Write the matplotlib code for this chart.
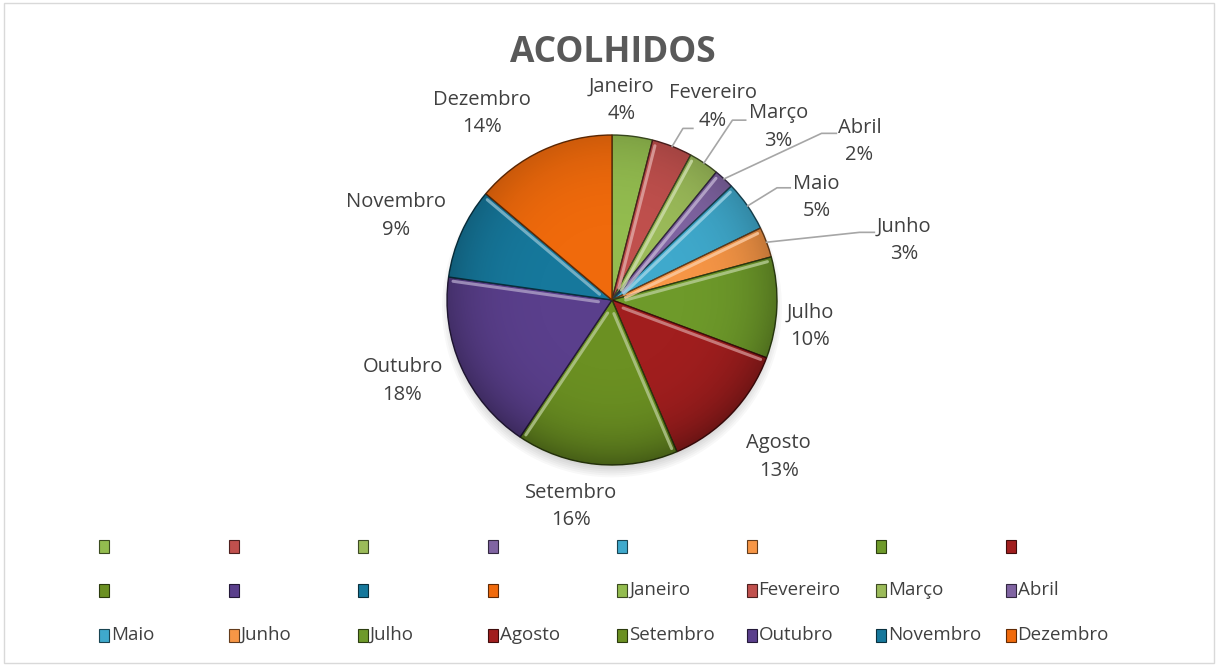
import numpy as np
import matplotlib.pyplot as plt
from matplotlib.patches import Rectangle, Circle
from matplotlib.colors import to_rgb

plt.rcParams['font.family'] = ['Open Sans', 'DejaVu Sans']

meses = ['Janeiro', 'Fevereiro', 'Março', 'Abril', 'Maio', 'Junho',
         'Julho', 'Agosto', 'Setembro', 'Outubro', 'Novembro', 'Dezembro']
percentuais = [4, 4, 3, 2, 5, 3, 10, 13, 16, 18, 9, 14]
cores = ['#93BC4F', '#C0504D', '#9BBB59', '#8064A2', '#3FA9CC', '#F79646',
         '#6E9A2A', '#A11E1E', '#6B9022', '#5A3F8C', '#16789C', '#F06A0C']

# posicao dos rotulos (em raios do pie)
pos_rotulos = [(0.06, 1.21), (0.61, 1.17), (1.01, 1.05), (1.50, 0.96),
               (1.24, 0.62), (1.77, 0.36), (1.20, -0.16), (1.01, -0.95),
               (-0.25, -1.25), (-1.27, -0.49), (-1.31, 0.51), (-0.79, 1.13)]
# linhas de chamada: indice -> (cotovelo, fim)
chamadas = {1: ((0.43, 1.04), (0.49, 1.04)),
            2: ((0.73, 1.09), (0.81, 1.09)),
            3: ((1.27, 1.01), (1.36, 1.01)),
            4: ((1.00, 0.68), (1.08, 0.68)),
            5: ((1.50, 0.41), (1.59, 0.41))}


def escurecer(c, f=0.55):
    r, g, b = to_rgb(c)
    return (r * f, g * f, b * f)


def clarear(c, f=0.45):
    r, g, b = to_rgb(c)
    return (r + (1 - r) * f, g + (1 - g) * f, b + (1 - b) * f)


fig = plt.figure(figsize=(12.18, 6.66), dpi=100)
fig.patches.append(Rectangle((0.003, 0.005), 0.994, 0.99, transform=fig.transFigure,
                             fill=False, edgecolor='#D9D9D9', lw=1))

R = 165
ax = fig.add_axes([312 / 1218, 126 / 666, 600 / 1218, 480 / 666])

# sombra suave (mais embaixo)
for k in range(6):
    ax.add_patch(Circle((0.0, -0.045), 0.97 + 0.012 * k, facecolor='black',
                        edgecolor='none', alpha=0.028, zorder=0))

wedges, _ = ax.pie(percentuais, colors=cores, startangle=90, counterclock=False,
                   radius=1.0, wedgeprops=dict(linewidth=1.0))
for w, c in zip(wedges, cores):
    w.set_edgecolor(escurecer(c, 0.4))
    w.set_zorder(2)

# escurecimento na borda (efeito de relevo)
g = np.linspace(-1, 1, 400)
gx, gy = np.meshgrid(g, g)
rr = np.sqrt(gx ** 2 + gy ** 2)
alfa = np.clip(0.35 * rr ** 5 * (0.7 - 0.3 * gy), 0, 0.4)
img = np.zeros((400, 400, 4))
img[..., 3] = alfa
im = ax.imshow(img, extent=(-1, 1, -1, 1), origin='lower', zorder=3)
im.set_clip_path(Circle((0, 0), 1.0, transform=ax.transData))

total = sum(percentuais)
cum = np.cumsum(percentuais)
inicio = np.deg2rad(90 - 360 * (cum - np.array(percentuais)) / total)
fim = np.deg2rad(90 - 360 * cum / total)
meio = (inicio + fim) / 2

# brilho nas arestas voltadas para cima
for i, c in enumerate(cores):
    for th, sinal in ((inicio[i], 1), (fim[i], -1)):
        nx, ny = -np.sin(th) * sinal, np.cos(th) * sinal  # normal para fora da fatia
        if ny > 0.05:
            rs = np.array([0.08, 0.97])
            xs = rs * np.cos(th) - 0.022 * nx
            ys = rs * np.sin(th) - 0.022 * ny
            ax.plot(xs, ys, color=clarear(c, 0.5), lw=2.2, alpha=0.8,
                    solid_capstyle='round', zorder=4)

ax.set_xlim(-300 / R, 300 / R)
ax.set_ylim(-240 / R, 240 / R)
ax.set_aspect('equal')
ax.axis('off')

for i, (m, p) in enumerate(zip(meses, percentuais)):
    x, y = pos_rotulos[i]
    ax.text(x, y, f'{m}\n{p}%', ha='center', va='center', fontsize=14.5,
            color='#404040', linespacing=1.5, zorder=5)
    if i in chamadas:
        (kx, ky), (ex, ey) = chamadas[i]
        sx, sy = np.cos(meio[i]), np.sin(meio[i])
        ax.plot([sx, kx, ex], [sy, ky, ey], color='#A6A6A6', lw=1.2,
                clip_on=False, zorder=5)

fig.text(613 / 1218, 1 - 53 / 666, 'ACOLHIDOS', ha='center', va='center',
         fontsize=25.5, fontweight='bold', color='#595959')

# legenda: 12 entradas vazias + 12 com nome
leg_rotulos = [''] * 12 + meses
leg_cores = cores + cores
linhas_y = [546, 590, 635]
for k, (rot, c) in enumerate(zip(leg_rotulos, leg_cores)):
    lin, col = divmod(k, 8)
    px = 104 + 129.5 * col
    py = linhas_y[lin]
    fig.patches.append(Rectangle(((px - 5) / 1218, 1 - (py + 6.5) / 666), 10 / 1218, 13 / 666,
                                 transform=fig.transFigure, facecolor=c,
                                 edgecolor=escurecer(c, 0.4), lw=0.8))
    if rot:
        fig.text((px + 7) / 1218, 1 - py / 666, rot, ha='left', va='center',
                 fontsize=13.5, color='#404040')

fig.savefig('out.png', dpi=100)
